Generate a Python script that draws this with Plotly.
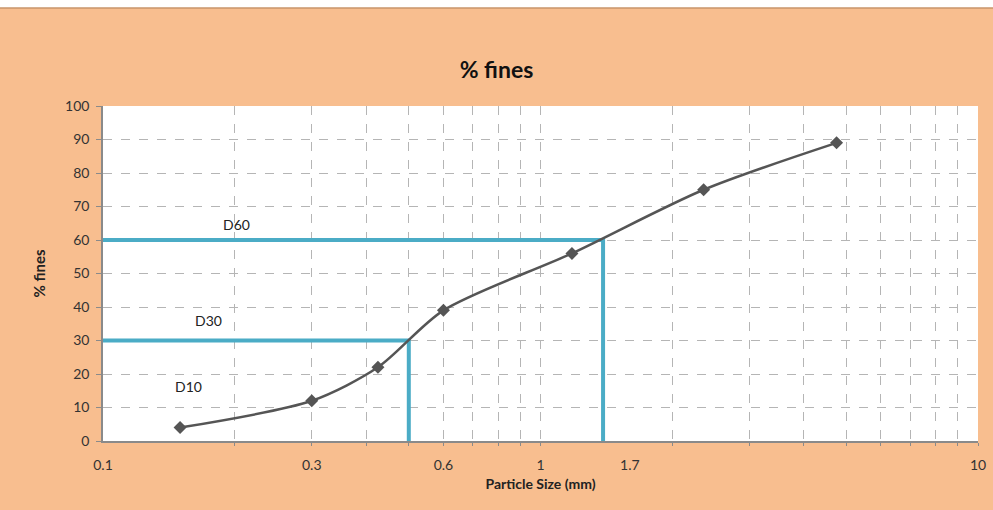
import math
import plotly.graph_objects as go

# Data
sieve_mm = [0.15, 0.3, 0.425, 0.6, 1.18, 2.36, 4.75]
pct_fines = [4, 12, 22, 39, 56, 75, 89]

d_labels = ["D60", "D30", "D10"]
d_pct = [60, 30, 10]
d_size = [1.39, 0.5, None]
d_label_x = [0.202, 0.174, 0.157]
d_label_y = [64.5, 36.1, 16.4]

x_tick_pos = [0.1, 0.3, 0.6, 1, 1.6, 10]
x_tick_text = ["0.1", "0.3", "0.6", "1", "1.7", "10"]
x_grid = [0.2, 0.3, 0.4, 0.5, 0.6, 0.7, 0.8, 0.9, 1, 2, 3, 4, 5, 6, 7, 8, 9, 10]
y_ticks = list(range(0, 101, 10))

ORANGE = "#F8BE8F"
BLUE = "#4BACC6"
DARK = "#555555"
FONT = "Lato"

fig = go.Figure()

# D lines
for lab, p, s in zip(d_labels, d_pct, d_size):
    if s is None:
        continue
    fig.add_trace(go.Scatter(x=[0.1, s, s], y=[p, p, 0], mode="lines",
                             line=dict(color=BLUE, width=4), hoverinfo="skip",
                             showlegend=False))

fig.add_trace(go.Scatter(x=sieve_mm, y=pct_fines, mode="lines+markers",
                         line=dict(color=DARK, width=2.5, shape="spline", smoothing=0.8),
                         marker=dict(symbol="diamond", size=10, color=DARK),
                         showlegend=False, cliponaxis=False))

for lab, lx, ly in zip(d_labels, d_label_x, d_label_y):
    fig.add_annotation(x=math.log10(lx), y=ly, xref="x", yref="y", text=lab, showarrow=False,
                       font=dict(family=FONT, size=14, color="#222222"))

H_PLOT = 510 - 106 - 69
# white strip at the top of the page
fig.add_shape(type="rect", xref="paper", yref="paper", x0=-0.2, x1=1.1,
              y0=(441 - 8) / H_PLOT, y1=1.4, fillcolor="white",
              line=dict(width=0), layer="below")
fig.add_shape(type="line", xref="paper", yref="paper", x0=-0.2, x1=1.1,
              y0=(441 - 8) / H_PLOT, y1=(441 - 8) / H_PLOT,
              line=dict(color="#C8946A", width=1.5), layer="below")

fig.update_layout(
    width=993, height=510,
    margin=dict(l=103, r=15, t=106, b=69),
    paper_bgcolor=ORANGE, plot_bgcolor="white",
    title=dict(text="<b>% fines</b>", x=0.5, xanchor="center", y=(510 - 70) / 510,
               yanchor="middle", font=dict(family=FONT, size=23, color="#111111")),
    font=dict(family=FONT, size=14, color="#333333"),
)

fig.update_xaxes(
    type="log", range=[-1, 1], automargin=False,
    tickmode="array", tickvals=x_tick_pos, ticktext=x_tick_text,
    showgrid=False, ticks="", tickfont=dict(size=14, color="#333333"),
    ticklabelstandoff=10,
    showline=True, linecolor="#8A8A8A", linewidth=1.5,
    minor=dict(tickmode="array", tickvals=x_grid, showgrid=True,
               gridcolor="#B5B5B5", griddash="dash", gridwidth=1,
               ticks="outside", ticklen=3, tickcolor="#8A8A8A"),
    title=dict(text="<b>Particle Size (mm)</b>", font=dict(family=FONT, size=14, color="#222222"),
               standoff=8),
    zeroline=False,
)
fig.update_yaxes(
    range=[0, 100], tickmode="array", tickvals=y_ticks, automargin=False,
    showgrid=True, gridcolor="#B5B5B5", griddash="dash", gridwidth=1,
    ticks="outside", ticklen=5, tickcolor="#8A8A8A",
    showline=True, linecolor="#8A8A8A", linewidth=1.5,
    tickfont=dict(size=14, color="#333333"), ticklabelstandoff=4,
    title=dict(text="<b>% fines</b>", font=dict(family=FONT, size=15, color="#222222"),
               standoff=16),
    zeroline=False,
)

fig.write_html("out.html")
